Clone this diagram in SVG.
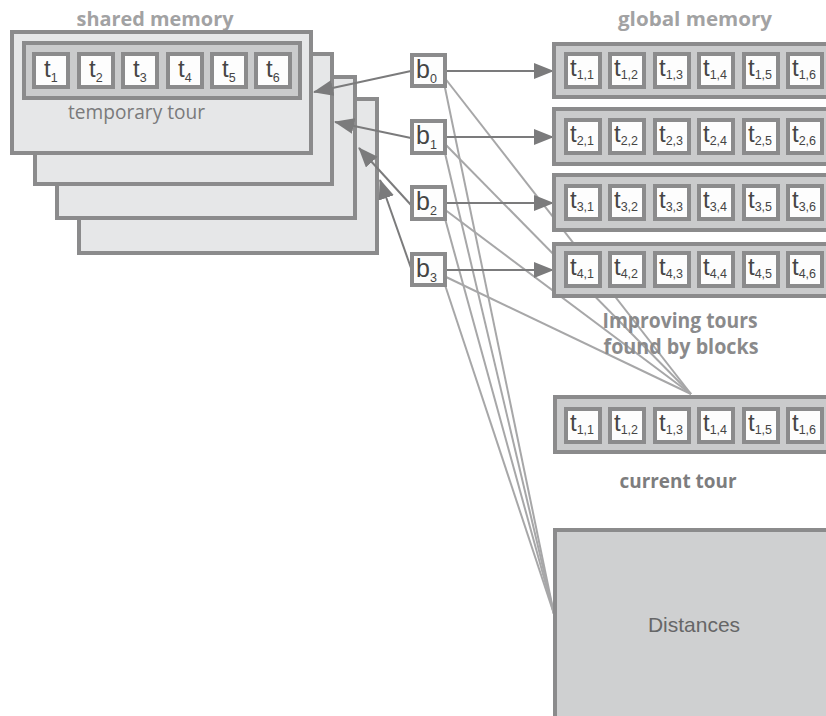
<svg xmlns="http://www.w3.org/2000/svg" width="826" height="716" viewBox="0 0 826 716">
  <defs>
    <style>
      .panel { fill: #e6e7e8; stroke: #8b8b8c; stroke-width: 4; }
      .bar { fill: #cacbcc; stroke: #8b8b8c; stroke-width: 4; }
      .cell { fill: #fdfdfd; stroke: #8b8b8c; stroke-width: 4; }
      .dist { fill: #cfd0d1; stroke: #8b8b8c; stroke-width: 4; }
      .ct { font-family: "Liberation Sans", Arial, sans-serif; font-size: 24px; fill: #454545; }
      .sub { font-size: 12.5px; }
      .bt { font-family: "Liberation Sans", Arial, sans-serif; font-size: 25px; fill: #454545; }
      .head { font-family: "Open Sans", "DejaVu Sans", sans-serif; font-weight: bold; font-size: 20px; fill: #a2a2a3; }
      .lbl { font-family: "Open Sans", "DejaVu Sans", sans-serif; font-weight: bold; font-size: 21px; fill: #8a8a8b; }
      .plain { font-family: "Open Sans", "DejaVu Sans", sans-serif; font-size: 20px; fill: #7a7a7b; }
      .arrow { fill: none; stroke: #7b7b7c; stroke-width: 2; }
      .link { fill: none; stroke: #a7a7a8; stroke-width: 2; }
    </style>
    <marker id="head" markerUnits="userSpaceOnUse" markerWidth="20" markerHeight="16" refX="19" refY="8" orient="auto">
      <path d="M0,0 L20,8 L0,16 z" fill="#7b7b7c"/>
    </marker>
  </defs>

  <!-- shared memory: stacked per-block panels -->
  <g id="shared-memory">
    <text class="head" x="155" y="26" text-anchor="middle" textLength="157" lengthAdjust="spacingAndGlyphs">shared  memory</text>
    <rect class="panel" x="79" y="99" width="298" height="154"/>
    <rect class="panel" x="57" y="77" width="298" height="141"/>
    <rect class="panel" x="35" y="54" width="297" height="130"/>
    <rect class="panel" x="12" y="32" width="299" height="121"/>
    <g id="temporary-tour">
      <rect class="bar" x="24" y="43" width="276" height="55"/>
      <rect class="cell" x="34" y="54" width="34" height="33"/>
      <rect class="cell" x="79" y="54" width="34" height="33"/>
      <rect class="cell" x="123" y="54" width="34" height="33"/>
      <rect class="cell" x="168" y="54" width="34" height="33"/>
      <rect class="cell" x="212" y="54" width="34" height="33"/>
      <rect class="cell" x="256" y="54" width="34" height="33"/>
      <text class="ct" x="44" y="77">t<tspan class="sub" dy="5">1</tspan></text>
      <text class="ct" x="89" y="77">t<tspan class="sub" dy="5">2</tspan></text>
      <text class="ct" x="133" y="77">t<tspan class="sub" dy="5">3</tspan></text>
      <text class="ct" x="178" y="77">t<tspan class="sub" dy="5">4</tspan></text>
      <text class="ct" x="222" y="77">t<tspan class="sub" dy="5">5</tspan></text>
      <text class="ct" x="266" y="77">t<tspan class="sub" dy="5">6</tspan></text>
      <text class="plain" x="68" y="119" textLength="137" lengthAdjust="spacingAndGlyphs">temporary tour</text>
    </g>
  </g>

  <!-- connectors -->
  <g id="connectors">
    <!-- blocks to current tour -->
    <line class="link" x1="444" y1="77" x2="691" y2="394"/>
    <line class="link" x1="444" y1="143" x2="691" y2="394"/>
    <line class="link" x1="444" y1="209" x2="691" y2="394"/>
    <line class="link" x1="444" y1="276" x2="691" y2="394"/>
    <!-- blocks to distances -->
    <line class="link" x1="444" y1="83" x2="554" y2="614"/>
    <line class="link" x1="444" y1="149" x2="554" y2="614"/>
    <line class="link" x1="444" y1="215" x2="554" y2="614"/>
    <line class="link" x1="444" y1="282" x2="554" y2="614"/>
    <!-- blocks to their shared-memory panel -->
    <line class="arrow" x1="411" y1="71" x2="314" y2="92" marker-end="url(#head)"/>
    <line class="arrow" x1="411" y1="138" x2="335" y2="122" marker-end="url(#head)"/>
    <line class="arrow" x1="411" y1="205" x2="359" y2="148" marker-end="url(#head)"/>
    <line class="arrow" x1="411" y1="268" x2="380" y2="180" marker-end="url(#head)"/>
    <!-- blocks to global memory rows -->
    <line class="arrow" x1="446" y1="71" x2="553" y2="71" marker-end="url(#head)"/>
    <line class="arrow" x1="446" y1="137" x2="553" y2="137" marker-end="url(#head)"/>
    <line class="arrow" x1="446" y1="203" x2="553" y2="203" marker-end="url(#head)"/>
    <line class="arrow" x1="446" y1="270" x2="553" y2="270" marker-end="url(#head)"/>
  </g>

  <!-- thread blocks -->
  <g id="b0">
    <rect class="cell" x="412" y="55" width="33" height="31"/>
    <text class="bt" x="416" y="78">b<tspan class="sub" dy="5">0</tspan></text>
  </g>
  <g id="b1">
    <rect class="cell" x="412" y="121" width="33" height="32"/>
    <text class="bt" x="416" y="144">b<tspan class="sub" dy="5">1</tspan></text>
  </g>
  <g id="b2">
    <rect class="cell" x="412" y="187" width="33" height="32"/>
    <text class="bt" x="416" y="210">b<tspan class="sub" dy="5">2</tspan></text>
  </g>
  <g id="b3">
    <rect class="cell" x="412" y="254" width="33" height="31"/>
    <text class="bt" x="416" y="277">b<tspan class="sub" dy="5">3</tspan></text>
  </g>

  <!-- global memory: improving tours per block -->
  <g id="global-memory">
    <text class="head" x="695" y="26" text-anchor="middle" textLength="154" lengthAdjust="spacingAndGlyphs">global  memory</text>
    <g id="tour-1">
      <rect class="bar" x="554" y="44" width="300" height="53"/>
      <rect class="cell" x="566" y="54" width="34" height="33"/>
      <rect class="cell" x="610" y="54" width="34" height="33"/>
      <rect class="cell" x="655" y="54" width="34" height="33"/>
      <rect class="cell" x="699" y="54" width="34" height="33"/>
      <rect class="cell" x="744" y="54" width="34" height="33"/>
      <rect class="cell" x="788" y="54" width="34" height="33"/>
      <text class="ct" x="570" y="76">t<tspan class="sub" dy="3">1,1</tspan></text>
      <text class="ct" x="614" y="76">t<tspan class="sub" dy="3">1,2</tspan></text>
      <text class="ct" x="659" y="76">t<tspan class="sub" dy="3">1,3</tspan></text>
      <text class="ct" x="703" y="76">t<tspan class="sub" dy="3">1,4</tspan></text>
      <text class="ct" x="748" y="76">t<tspan class="sub" dy="3">1,5</tspan></text>
      <text class="ct" x="792" y="76">t<tspan class="sub" dy="3">1,6</tspan></text>
    </g>
    <g id="tour-2">
      <rect class="bar" x="554" y="109" width="300" height="55"/>
      <rect class="cell" x="566" y="120" width="34" height="33"/>
      <rect class="cell" x="610" y="120" width="34" height="33"/>
      <rect class="cell" x="655" y="120" width="34" height="33"/>
      <rect class="cell" x="699" y="120" width="34" height="33"/>
      <rect class="cell" x="744" y="120" width="34" height="33"/>
      <rect class="cell" x="788" y="120" width="34" height="33"/>
      <text class="ct" x="570" y="142">t<tspan class="sub" dy="3">2,1</tspan></text>
      <text class="ct" x="614" y="142">t<tspan class="sub" dy="3">2,2</tspan></text>
      <text class="ct" x="659" y="142">t<tspan class="sub" dy="3">2,3</tspan></text>
      <text class="ct" x="703" y="142">t<tspan class="sub" dy="3">2,4</tspan></text>
      <text class="ct" x="748" y="142">t<tspan class="sub" dy="3">2,5</tspan></text>
      <text class="ct" x="792" y="142">t<tspan class="sub" dy="3">2,6</tspan></text>
    </g>
    <g id="tour-3">
      <rect class="bar" x="554" y="175" width="300" height="55"/>
      <rect class="cell" x="566" y="186" width="34" height="33"/>
      <rect class="cell" x="610" y="186" width="34" height="33"/>
      <rect class="cell" x="655" y="186" width="34" height="33"/>
      <rect class="cell" x="699" y="186" width="34" height="33"/>
      <rect class="cell" x="744" y="186" width="34" height="33"/>
      <rect class="cell" x="788" y="186" width="34" height="33"/>
      <text class="ct" x="570" y="208">t<tspan class="sub" dy="3">3,1</tspan></text>
      <text class="ct" x="614" y="208">t<tspan class="sub" dy="3">3,2</tspan></text>
      <text class="ct" x="659" y="208">t<tspan class="sub" dy="3">3,3</tspan></text>
      <text class="ct" x="703" y="208">t<tspan class="sub" dy="3">3,4</tspan></text>
      <text class="ct" x="748" y="208">t<tspan class="sub" dy="3">3,5</tspan></text>
      <text class="ct" x="792" y="208">t<tspan class="sub" dy="3">3,6</tspan></text>
    </g>
    <g id="tour-4">
      <rect class="bar" x="554" y="244" width="300" height="52"/>
      <rect class="cell" x="566" y="253" width="34" height="33"/>
      <rect class="cell" x="610" y="253" width="34" height="33"/>
      <rect class="cell" x="655" y="253" width="34" height="33"/>
      <rect class="cell" x="699" y="253" width="34" height="33"/>
      <rect class="cell" x="744" y="253" width="34" height="33"/>
      <rect class="cell" x="788" y="253" width="34" height="33"/>
      <text class="ct" x="570" y="275">t<tspan class="sub" dy="3">4,1</tspan></text>
      <text class="ct" x="614" y="275">t<tspan class="sub" dy="3">4,2</tspan></text>
      <text class="ct" x="659" y="275">t<tspan class="sub" dy="3">4,3</tspan></text>
      <text class="ct" x="703" y="275">t<tspan class="sub" dy="3">4,4</tspan></text>
      <text class="ct" x="748" y="275">t<tspan class="sub" dy="3">4,5</tspan></text>
      <text class="ct" x="792" y="275">t<tspan class="sub" dy="3">4,6</tspan></text>
    </g>
    <text class="lbl" x="680" y="328" text-anchor="middle" textLength="155" lengthAdjust="spacingAndGlyphs">Improving tours</text>
    <text class="lbl" x="681" y="354" text-anchor="middle" textLength="155" lengthAdjust="spacingAndGlyphs">found by blocks</text>
  </g>

  <!-- current tour -->
  <g id="current-tour">
    <rect class="bar" x="555" y="397" width="300" height="55"/>
    <rect class="cell" x="566" y="409" width="34" height="33"/>
    <rect class="cell" x="610" y="409" width="34" height="33"/>
    <rect class="cell" x="655" y="409" width="34" height="33"/>
    <rect class="cell" x="699" y="409" width="34" height="33"/>
    <rect class="cell" x="744" y="409" width="34" height="33"/>
    <rect class="cell" x="788" y="409" width="34" height="33"/>
    <text class="ct" x="570" y="431">t<tspan class="sub" dy="3">1,1</tspan></text>
    <text class="ct" x="614" y="431">t<tspan class="sub" dy="3">1,2</tspan></text>
    <text class="ct" x="659" y="431">t<tspan class="sub" dy="3">1,3</tspan></text>
    <text class="ct" x="703" y="431">t<tspan class="sub" dy="3">1,4</tspan></text>
    <text class="ct" x="748" y="431">t<tspan class="sub" dy="3">1,5</tspan></text>
    <text class="ct" x="792" y="431">t<tspan class="sub" dy="3">1,6</tspan></text>
    <text class="lbl" x="678" y="488" text-anchor="middle" textLength="117" lengthAdjust="spacingAndGlyphs" style="fill:#7d7d7e; font-size:19px">current tour</text>
  </g>

  <!-- distance matrix -->
  <g id="distances">
    <rect class="dist" x="555" y="530" width="300" height="220"/>
    <text x="694" y="632" text-anchor="middle" font-family="Liberation Sans, Arial, sans-serif" font-size="21" fill="#666667">Distances</text>
  </g>
</svg>
